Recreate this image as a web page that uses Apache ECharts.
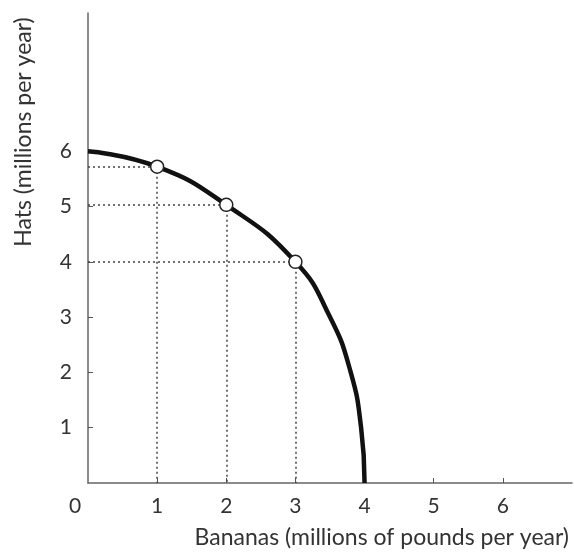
<!DOCTYPE html>
<html>
<head>
<meta charset="utf-8">
<script src="https://cdn.jsdelivr.net/npm/echarts@6/dist/echarts.min.js"></script>
<style>
  html, body { margin: 0; padding: 0; background: #fff; }
  #chart { width: 574px; height: 552px; }
</style>
</head>
<body>
<div id="chart"></div>
<script>
// 生产可能性曲线 数据
var curveX = [0, 1, 2, 3, 3.5, 3.8, 3.95, 4];
var curveY = [6, 5.72, 5.03, 4.0, 3.0, 2.0, 1.0, 0];
var pointX = [1, 2, 3];
var pointY = [5.72, 5.03, 4.0];
var xTicks = [0, 1, 2, 3, 4, 5, 6];
var yTicks = [1, 2, 3, 4, 5, 6];

var fontFamily = 'Lato, "DejaVu Sans", sans-serif';
var textColor = '#333';

var curveData = curveX.map(function (x, i) { return [x, curveY[i]]; });
var pointData = pointX.map(function (x, i) { return [x, pointY[i]]; });

// 虚线：点到坐标轴
var guideLines = [];
pointData.forEach(function (p) {
  guideLines.push([{ coord: [0, p[1]] }, { coord: [p[0], p[1]] }]);
  guideLines.push([{ coord: [p[0], p[1]] }, { coord: [p[0], 0] }]);
});

var myChart = echarts.init(document.getElementById('chart'));
var option = {
  animation: false,
  grid: { left: 88, right: 2, top: 13, bottom: 69 },
  xAxis: {
    type: 'value',
    min: 0,
    max: 7,
    interval: 1,
    splitLine: { show: false },
    axisLine: { show: true, lineStyle: { color: '#666', width: 1.5 } },
    axisTick: {
      show: true, inside: true, length: 5,
      customValues: xTicks.slice(1),
      lineStyle: { color: '#555' }
    },
    axisLabel: {
      customValues: xTicks,
      margin: 13,
      color: textColor,
      fontSize: 21,
      fontFamily: fontFamily,
      formatter: function (v) { return v === 0 ? '{z|0}' : String(v); },
      rich: { z: { padding: [0, 26, 0, 0], fontSize: 21, color: textColor, fontFamily: fontFamily } }
    }
  },
  yAxis: {
    type: 'value',
    min: 0,
    max: 8.5,
    interval: 1,
    splitLine: { show: false },
    axisLine: { show: true, lineStyle: { color: '#666', width: 1.5 } },
    axisTick: {
      show: true, inside: true, length: 5,
      customValues: yTicks,
      lineStyle: { color: '#555' }
    },
    axisLabel: {
      customValues: yTicks,
      margin: 16,
      color: textColor,
      fontSize: 21,
      fontFamily: fontFamily
    }
  },
  graphic: [
    {
      type: 'text',
      x: 24, y: 132,
      rotation: Math.PI / 2,
      style: {
        text: 'Hats (millions per year)',
        fill: textColor,
        font: '23px ' + fontFamily,
        textAlign: 'center',
        textVerticalAlign: 'middle'
      }
    },
    {
      type: 'text',
      x: 569, y: 538,
      style: {
        text: 'Bananas (millions of pounds per year)',
        fill: textColor,
        font: '23px ' + fontFamily,
        textAlign: 'right',
        textVerticalAlign: 'middle'
      }
    }
  ],
  series: [
    {
      type: 'line',
      data: curveData,
      smooth: 0.5,
      symbol: 'none',
      lineStyle: { color: '#111', width: 4.5 },
      z: 3,
      markLine: {
        silent: true,
        symbol: ['none', 'none'],
        label: { show: false },
        lineStyle: { color: '#444', type: [2, 3], width: 1.5 },
        data: guideLines
      }
    },
    {
      type: 'scatter',
      data: pointData,
      symbol: 'circle',
      symbolSize: 13,
      itemStyle: { color: '#fff', opacity: 1, borderColor: '#222', borderWidth: 1.5 },
      z: 5
    }
  ]
};
myChart.setOption(option);
</script>
</body>
</html>
